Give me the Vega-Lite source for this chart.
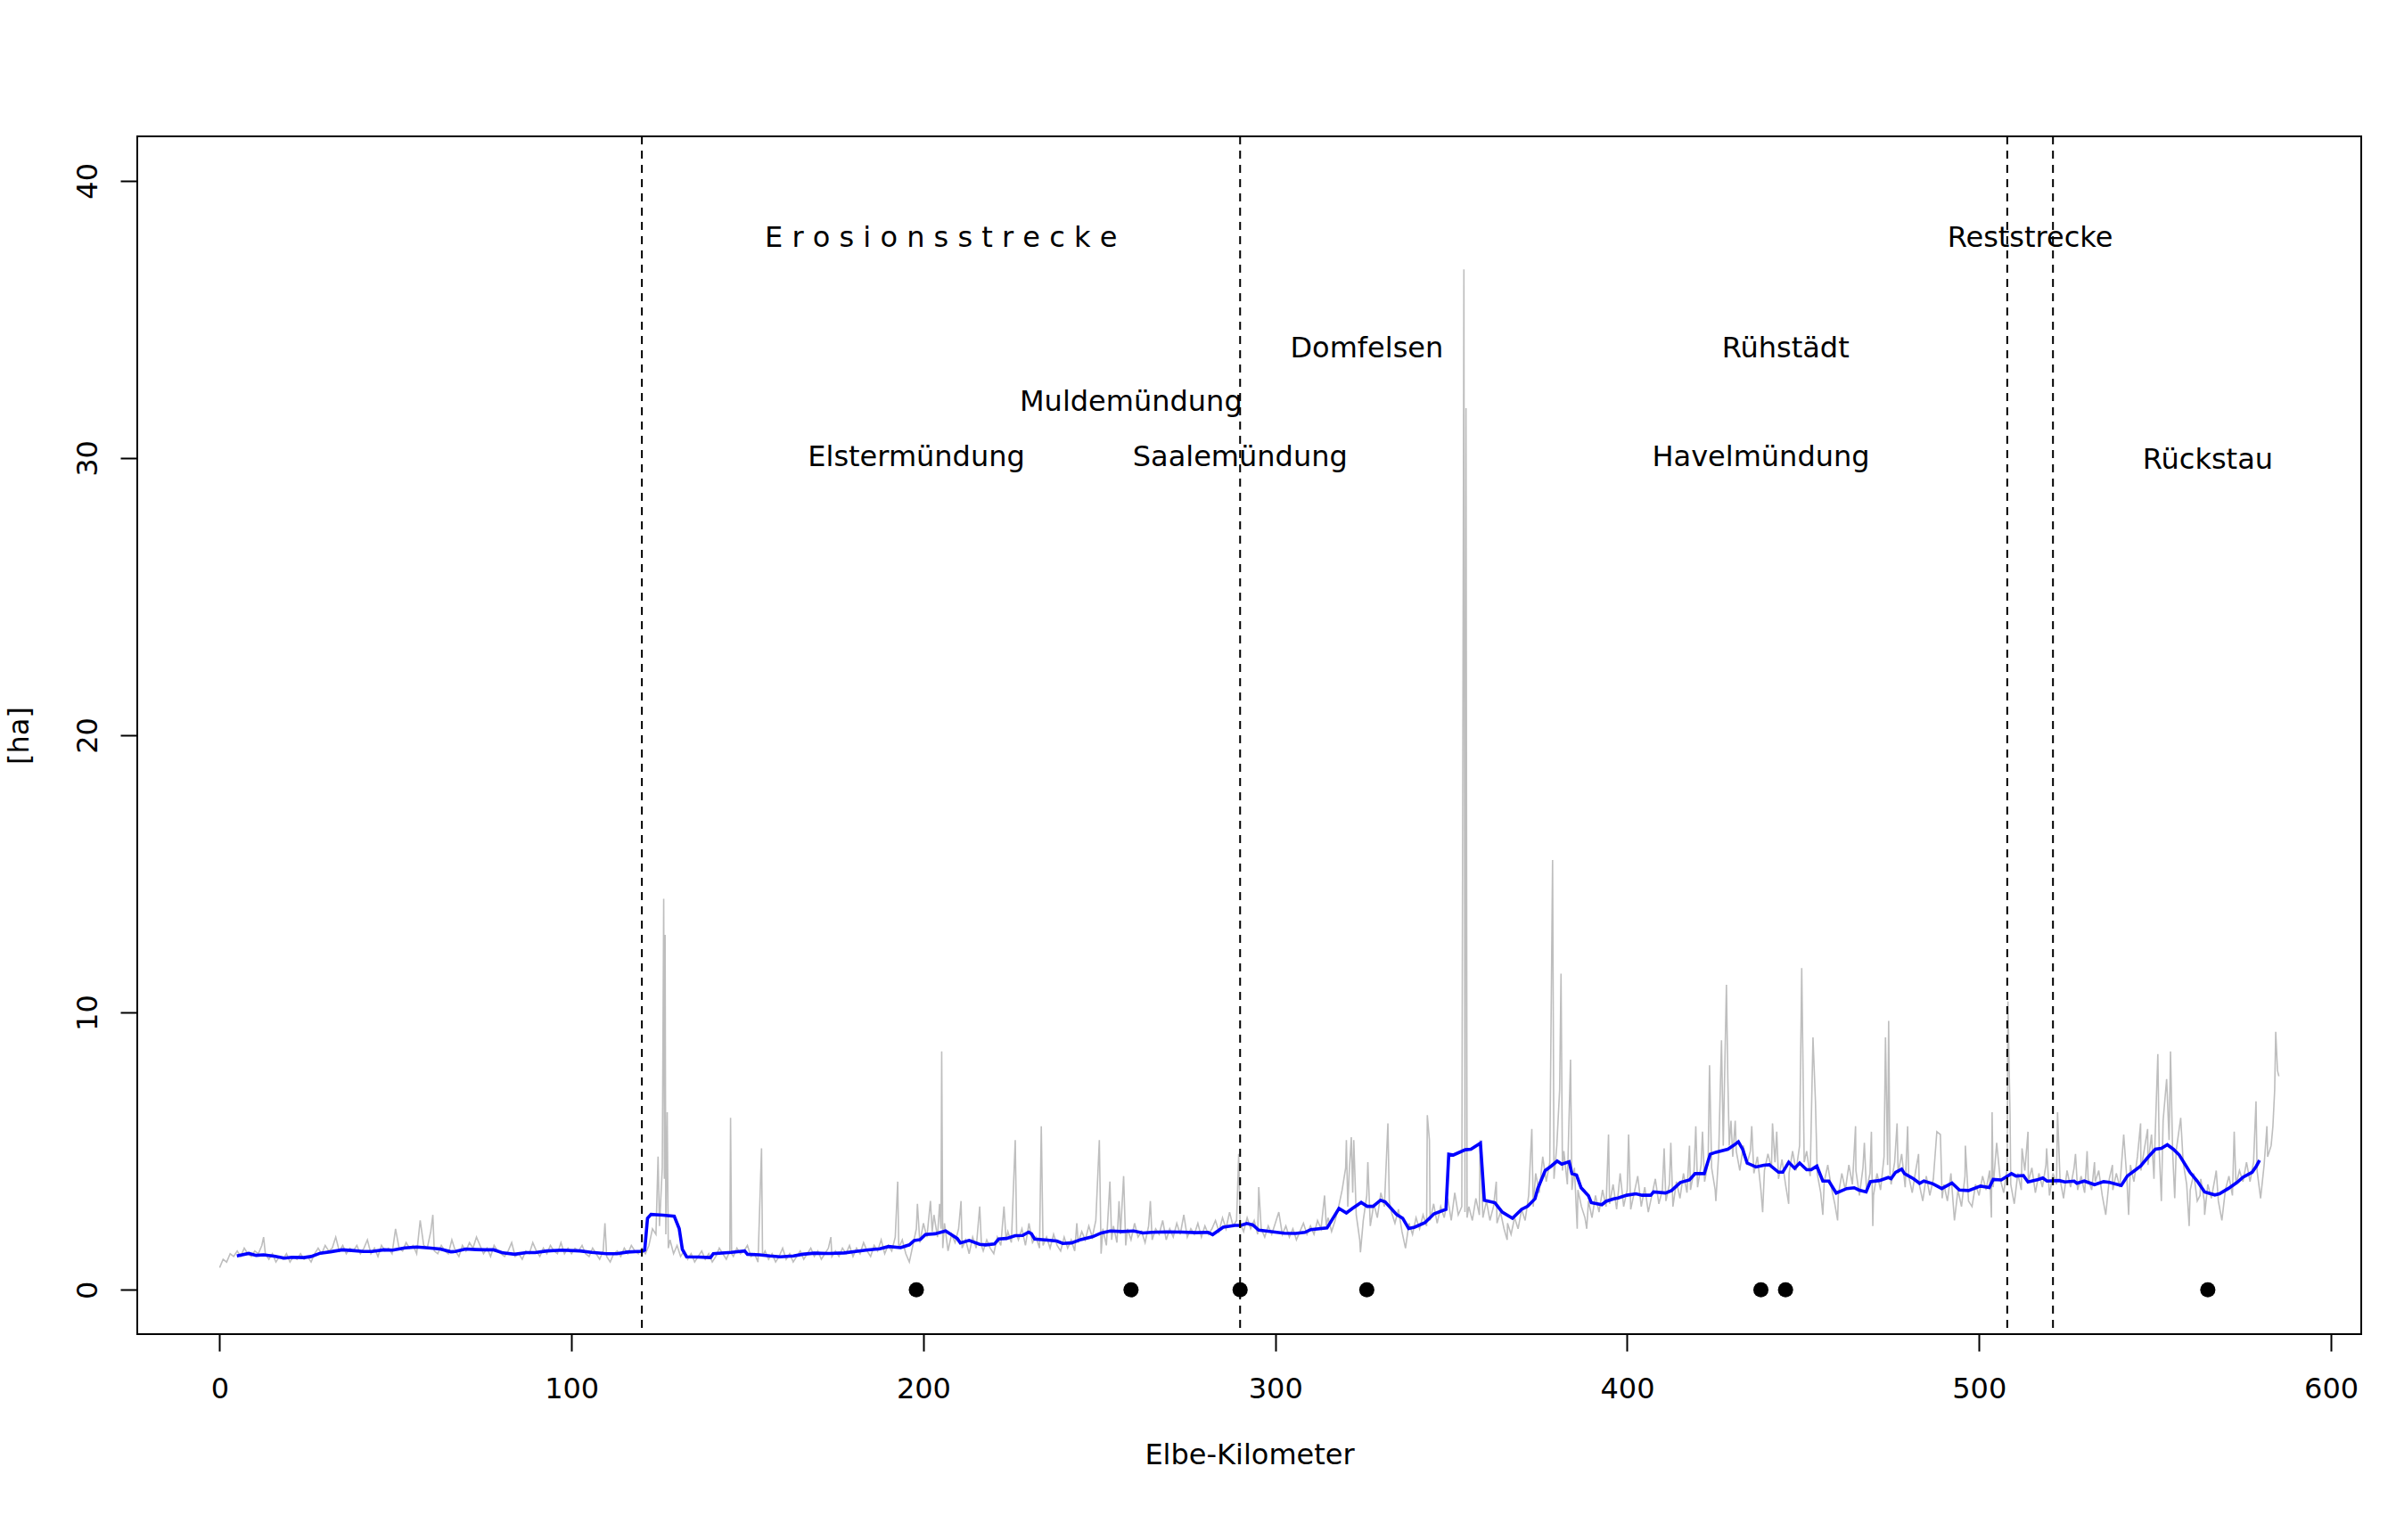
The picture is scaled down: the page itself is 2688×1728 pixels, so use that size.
{
"$schema": "https://vega.github.io/schema/vega-lite/v6.json",
"width": 2495, "height": 1344,
"autosize": "none",
"padding": {"left": 154, "top": 153, "right": 39, "bottom": 231},
"background": "white",
"config": {"view": {"stroke": "black", "strokeWidth": 2}, "font": "DejaVu Sans",
 "axis": {"grid": false, "domain": false, "tickColor": "black", "tickWidth": 2, "tickSize": 19, "labelFontSize": 32, "labelColor": "black", "labelFont": "DejaVu Sans", "titleFont": "DejaVu Sans", "titleFontSize": 32, "titleFontWeight": "normal", "titleColor": "black"}},
"datasets": {
"raw": [
{"k":0,"v":0.8},{"k":1,"v":1.1},{"k":2,"v":1.0},{"k":3,"v":1.3},{"k":4,"v":1.2},{"k":5,"v":1.4},{"k":6,"v":1.2},{"k":7,"v":1.5},{"k":8,"v":1.3},{"k":9,"v":1.2},
{"k":10,"v":1.4},{"k":11,"v":1.3},{"k":12,"v":1.6},{"k":12.5,"v":1.9},{"k":13,"v":1.3},{"k":14,"v":1.1},{"k":15,"v":1.3},{"k":16,"v":1.0},{"k":17,"v":1.2},{"k":18,"v":1.1},{"k":19,"v":1.3},
{"k":20,"v":1.0},{"k":21,"v":1.2},{"k":22,"v":1.1},{"k":23,"v":1.3},{"k":24,"v":1.1},{"k":25,"v":1.2},{"k":26,"v":1.0},{"k":27,"v":1.3},{"k":28,"v":1.5},{"k":29,"v":1.3},
{"k":30,"v":1.6},{"k":31,"v":1.4},{"k":32,"v":1.5},{"k":33,"v":1.9},{"k":34,"v":1.4},{"k":35,"v":1.6},{"k":36,"v":1.3},{"k":37,"v":1.5},{"k":38,"v":1.4},{"k":39,"v":1.6},
{"k":40,"v":1.3},{"k":41,"v":1.5},{"k":42,"v":1.8},{"k":43,"v":1.3},{"k":44,"v":1.5},{"k":45,"v":1.2},{"k":46,"v":1.6},{"k":47,"v":1.4},{"k":48,"v":1.5},{"k":49,"v":1.3},
{"k":50,"v":2.2},{"k":51,"v":1.5},{"k":52,"v":1.4},{"k":53,"v":1.7},{"k":54,"v":1.5},{"k":55,"v":1.6},{"k":56,"v":1.3},{"k":57,"v":2.5},{"k":58,"v":1.6},{"k":59,"v":1.5},
{"k":60,"v":2.1},{"k":60.6,"v":2.7},{"k":61,"v":1.4},{"k":62,"v":1.3},{"k":63,"v":1.6},{"k":64,"v":1.4},{"k":65,"v":1.3},{"k":66,"v":1.8},{"k":67,"v":1.4},{"k":68,"v":1.2},{"k":69,"v":1.6},
{"k":70,"v":1.4},{"k":71,"v":1.7},{"k":72,"v":1.5},{"k":73,"v":1.9},{"k":74,"v":1.6},{"k":75,"v":1.3},{"k":76,"v":1.5},{"k":77,"v":1.2},{"k":78,"v":1.6},{"k":79,"v":1.4},
{"k":80,"v":1.3},{"k":81,"v":1.2},{"k":82,"v":1.4},{"k":83,"v":1.7},{"k":84,"v":1.2},{"k":85,"v":1.3},{"k":86,"v":1.1},{"k":87,"v":1.4},{"k":88,"v":1.3},{"k":89,"v":1.7},
{"k":90,"v":1.4},{"k":91,"v":1.2},{"k":92,"v":1.5},{"k":93,"v":1.3},{"k":94,"v":1.6},{"k":95,"v":1.4},{"k":96,"v":1.3},{"k":97,"v":1.7},{"k":98,"v":1.3},{"k":99,"v":1.5},
{"k":100,"v":1.3},{"k":101,"v":1.5},{"k":102,"v":1.4},{"k":103,"v":1.6},{"k":104,"v":1.3},{"k":105,"v":1.2},{"k":106,"v":1.5},{"k":107,"v":1.3},{"k":108,"v":1.1},{"k":109,"v":1.4},{"k":109.5,"v":2.4},
{"k":110,"v":1.2},{"k":111,"v":1.0},{"k":112,"v":1.3},{"k":113,"v":1.4},{"k":114,"v":1.2},{"k":115,"v":1.5},{"k":116,"v":1.3},{"k":117,"v":1.6},{"k":118,"v":1.4},{"k":119,"v":1.3},
{"k":120,"v":1.5},{"k":121,"v":1.3},{"k":122,"v":1.6},{"k":123,"v":2.2},{"k":124,"v":2.0},{"k":124.6,"v":4.8},{"k":125,"v":2.3},{"k":125.8,"v":4.4},{"k":126.2,"v":14.1},{"k":126.4,"v":4.0},{"k":126.6,"v":12.8},{"k":126.8,"v":2.0},{"k":127.2,"v":6.4},{"k":127.5,"v":1.5},
{"k":128,"v":1.8},{"k":129,"v":1.3},{"k":130,"v":1.6},{"k":131,"v":1.2},{"k":132,"v":1.4},{"k":133,"v":1.1},{"k":134,"v":1.3},{"k":135,"v":1.0},{"k":136,"v":1.2},{"k":137,"v":1.4},{"k":138,"v":1.1},{"k":139,"v":1.3},
{"k":140,"v":1.0},{"k":141,"v":1.2},{"k":142,"v":1.5},{"k":143,"v":1.3},{"k":144,"v":1.1},{"k":145,"v":1.4},{"k":145.2,"v":6.2},{"k":145.5,"v":1.3},{"k":146,"v":1.2},{"k":147,"v":1.5},{"k":148,"v":1.3},{"k":149,"v":1.4},
{"k":150,"v":1.6},{"k":151,"v":1.2},{"k":152,"v":1.3},{"k":153,"v":1.0},{"k":154,"v":5.1},{"k":154.3,"v":1.2},{"k":155,"v":1.4},{"k":156,"v":1.1},{"k":157,"v":1.3},{"k":158,"v":1.0},{"k":159,"v":1.2},
{"k":160,"v":1.5},{"k":161,"v":1.1},{"k":162,"v":1.3},{"k":163,"v":1.0},{"k":164,"v":1.2},{"k":165,"v":1.4},{"k":166,"v":1.1},{"k":167,"v":1.3},{"k":168,"v":1.5},{"k":169,"v":1.2},
{"k":170,"v":1.4},{"k":171,"v":1.1},{"k":172,"v":1.3},{"k":173,"v":1.5},{"k":173.7,"v":1.9},{"k":174,"v":1.2},{"k":175,"v":1.4},{"k":176,"v":1.2},{"k":177,"v":1.5},{"k":178,"v":1.3},{"k":179,"v":1.6},
{"k":180,"v":1.2},{"k":181,"v":1.5},{"k":182,"v":1.3},{"k":183,"v":1.7},{"k":184,"v":1.4},{"k":185,"v":1.2},{"k":186,"v":1.6},{"k":187,"v":1.4},{"k":188,"v":1.8},{"k":189,"v":1.3},
{"k":190,"v":1.6},{"k":191,"v":1.4},{"k":192,"v":1.9},{"k":192.7,"v":3.9},{"k":193,"v":1.5},{"k":194,"v":1.8},{"k":195,"v":1.3},{"k":196,"v":1.0},{"k":197,"v":1.6},{"k":198,"v":2.2},{"k":198.3,"v":3.1},{"k":199,"v":1.7},
{"k":200,"v":2.4},{"k":201,"v":1.9},{"k":202,"v":3.2},{"k":202.5,"v":2.1},{"k":203,"v":2.7},{"k":204,"v":1.9},{"k":204.6,"v":3.1},{"k":205,"v":2.2},{"k":205.2,"v":8.6},{"k":205.5,"v":1.5},{"k":206,"v":2.4},{"k":207,"v":1.4},{"k":208,"v":2.0},{"k":209,"v":1.7},
{"k":210,"v":2.2},{"k":210.7,"v":3.2},{"k":211,"v":1.5},{"k":212,"v":1.8},{"k":213,"v":1.3},{"k":214,"v":1.9},{"k":215,"v":1.5},{"k":216,"v":3.0},{"k":216.5,"v":1.6},{"k":217,"v":1.4},{"k":218,"v":1.8},{"k":219,"v":1.5},
{"k":220,"v":1.3},{"k":221,"v":1.9},{"k":222,"v":1.6},{"k":222.9,"v":3.0},{"k":223.5,"v":1.8},{"k":224,"v":2.1},{"k":225,"v":1.7},{"k":226.1,"v":5.4},{"k":226.5,"v":2.0},{"k":227,"v":1.8},{"k":228,"v":2.2},{"k":229,"v":1.6},
{"k":230,"v":2.4},{"k":231,"v":1.7},{"k":232,"v":1.9},{"k":233,"v":1.5},{"k":233.5,"v":5.9},{"k":234,"v":1.6},{"k":235,"v":1.9},{"k":236,"v":1.5},{"k":237,"v":2.0},{"k":238,"v":1.6},{"k":239,"v":1.4},
{"k":240,"v":1.9},{"k":241,"v":1.5},{"k":242,"v":1.8},{"k":243,"v":1.4},{"k":243.6,"v":2.4},{"k":244,"v":1.7},{"k":245,"v":2.1},{"k":246,"v":1.8},{"k":247,"v":2.3},{"k":248,"v":1.9},{"k":249,"v":2.5},
{"k":250,"v":5.4},{"k":250.5,"v":1.3},{"k":251,"v":2.2},{"k":252,"v":1.6},{"k":253,"v":3.9},{"k":253.5,"v":1.8},{"k":254,"v":2.3},{"k":255,"v":1.7},{"k":255.6,"v":3.2},{"k":256,"v":2.0},{"k":256.9,"v":4.1},{"k":257.5,"v":1.6},{"k":258,"v":2.2},{"k":259,"v":1.8},
{"k":260,"v":2.4},{"k":261,"v":1.9},{"k":262,"v":2.1},{"k":263,"v":1.7},{"k":264,"v":2.3},{"k":264.5,"v":3.2},{"k":265,"v":1.8},{"k":266,"v":2.2},{"k":267,"v":2.0},{"k":268,"v":2.5},{"k":269,"v":1.8},
{"k":270,"v":2.2},{"k":271,"v":1.9},{"k":272,"v":2.4},{"k":273,"v":2.0},{"k":274,"v":2.7},{"k":275,"v":1.9},{"k":276,"v":2.2},{"k":277,"v":2.0},{"k":278,"v":2.4},{"k":279,"v":1.9},
{"k":280,"v":2.3},{"k":281,"v":2.0},{"k":282,"v":2.2},{"k":283,"v":2.5},{"k":284,"v":2.1},{"k":285,"v":2.6},{"k":286,"v":2.2},{"k":287,"v":2.8},{"k":288,"v":2.3},{"k":289,"v":2.5},{"k":289.6,"v":4.9},
{"k":290,"v":2.4},{"k":291,"v":2.1},{"k":292,"v":2.6},{"k":293,"v":2.2},{"k":294,"v":2.5},{"k":295,"v":2.0},{"k":295.3,"v":3.7},{"k":296,"v":2.2},{"k":297,"v":1.9},{"k":298,"v":2.3},{"k":299,"v":2.0},
{"k":300,"v":2.4},{"k":301,"v":2.8},{"k":302,"v":2.0},{"k":303,"v":2.3},{"k":304,"v":1.9},{"k":305,"v":2.2},{"k":306,"v":1.8},{"k":307,"v":2.1},{"k":308,"v":2.4},{"k":309,"v":2.0},
{"k":310,"v":2.3},{"k":311,"v":2.0},{"k":312,"v":2.5},{"k":313,"v":2.2},{"k":314,"v":3.4},{"k":314.5,"v":2.3},{"k":315,"v":2.6},{"k":316,"v":2.1},{"k":317,"v":2.5},{"k":318,"v":3.0},{"k":319,"v":3.6},
{"k":320,"v":4.4},{"k":320.2,"v":5.4},{"k":320.6,"v":3.0},{"k":321,"v":4.2},{"k":321.6,"v":5.5},{"k":322,"v":3.5},{"k":322.3,"v":5.4},{"k":323,"v":2.7},{"k":324,"v":1.8},{"k":324.2,"v":1.35},{"k":325,"v":2.5},{"k":326,"v":3.4},{"k":326.3,"v":4.6},{"k":327,"v":2.3},{"k":328,"v":3.1},{"k":329,"v":2.6},
{"k":330,"v":3.5},{"k":331,"v":3.0},{"k":332,"v":6.0},{"k":332.4,"v":3.2},{"k":333,"v":2.8},{"k":334,"v":2.4},{"k":335,"v":2.9},{"k":336,"v":2.1},{"k":337,"v":1.5},{"k":338,"v":2.4},{"k":339,"v":2.0},
{"k":340,"v":2.6},{"k":341,"v":2.2},{"k":342,"v":2.7},{"k":343,"v":2.3},{"k":343.2,"v":6.3},{"k":343.8,"v":5.4},{"k":344,"v":2.5},{"k":345,"v":3.1},{"k":346,"v":2.4},{"k":347,"v":3.0},{"k":348,"v":2.6},{"k":349,"v":3.3},
{"k":350,"v":2.5},{"k":351,"v":3.5},{"k":352,"v":2.7},{"k":353,"v":3.0},{"k":353.6,"v":36.8},{"k":353.9,"v":2.8},{"k":354.2,"v":31.8},{"k":354.5,"v":2.6},{"k":355,"v":3.0},{"k":356,"v":2.5},{"k":357,"v":3.3},{"k":358,"v":2.7},{"k":358.2,"v":5.4},{"k":359,"v":2.6},
{"k":360,"v":3.2},{"k":361,"v":2.5},{"k":362,"v":3.0},{"k":362.8,"v":3.9},{"k":363,"v":2.4},{"k":364,"v":2.8},{"k":365,"v":2.2},{"k":365.9,"v":1.8},{"k":366,"v":2.4},{"k":367,"v":2.0},{"k":368,"v":2.6},{"k":369,"v":2.2},
{"k":370,"v":2.9},{"k":371,"v":2.5},{"k":372,"v":3.4},{"k":372.9,"v":5.8},{"k":373.3,"v":3.0},{"k":374,"v":4.2},{"k":375,"v":3.5},{"k":376,"v":4.8},{"k":377,"v":3.9},{"k":378,"v":4.6},{"k":378.8,"v":15.5},{"k":379.2,"v":4.0},
{"k":380,"v":5.2},{"k":380.8,"v":7.2},{"k":381.2,"v":11.4},{"k":381.6,"v":4.3},{"k":382,"v":5.0},{"k":383,"v":3.8},{"k":383.9,"v":8.3},{"k":384.3,"v":3.6},{"k":385,"v":4.4},{"k":385.8,"v":2.2},{"k":386,"v":3.6},{"k":387,"v":3.0},{"k":388,"v":2.6},{"k":388.5,"v":2.2},{"k":389,"v":3.2},
{"k":390,"v":2.6},{"k":391,"v":3.4},{"k":392,"v":2.8},{"k":393,"v":3.6},{"k":394,"v":3.0},{"k":394.7,"v":5.6},{"k":395,"v":3.1},{"k":396,"v":3.8},{"k":397,"v":2.9},{"k":398,"v":4.2},{"k":399,"v":3.0},
{"k":400,"v":3.6},{"k":400.4,"v":5.6},{"k":401,"v":2.9},{"k":402,"v":3.5},{"k":403,"v":4.1},{"k":404,"v":3.0},{"k":405,"v":3.7},{"k":406,"v":2.8},{"k":407,"v":3.4},{"k":408,"v":4.0},{"k":409,"v":3.1},
{"k":410,"v":3.6},{"k":410.5,"v":5.1},{"k":411,"v":3.2},{"k":412,"v":3.8},{"k":412.4,"v":5.3},{"k":413,"v":3.0},{"k":414,"v":3.9},{"k":415,"v":3.3},{"k":416,"v":4.2},{"k":417,"v":3.5},{"k":417.7,"v":5.2},{"k":418,"v":3.6},{"k":419,"v":4.3},{"k":419.5,"v":5.9},
{"k":420,"v":3.7},{"k":421,"v":4.5},{"k":421.4,"v":5.7},{"k":422,"v":3.9},{"k":423,"v":4.6},{"k":423.4,"v":8.1},{"k":424,"v":4.4},{"k":425,"v":3.6},{"k":425.2,"v":3.2},{"k":426,"v":4.9},{"k":426.8,"v":9.0},{"k":427.3,"v":5.2},{"k":428.2,"v":11.0},{"k":428.6,"v":7.6},{"k":429,"v":5.2},{"k":429.5,"v":6.1},
{"k":430,"v":4.8},{"k":430.7,"v":6.1},{"k":431,"v":5.0},{"k":432,"v":4.3},{"k":433,"v":5.2},{"k":434,"v":4.5},{"k":435,"v":5.0},{"k":435.4,"v":5.9},{"k":436,"v":4.2},{"k":437,"v":4.8},{"k":438,"v":3.6},{"k":438.5,"v":2.8},{"k":439,"v":4.3},
{"k":440,"v":4.9},{"k":441,"v":4.4},{"k":441.3,"v":6.0},{"k":442,"v":4.6},{"k":442.5,"v":5.7},{"k":443,"v":4.0},{"k":444,"v":4.7},{"k":445,"v":3.8},{"k":445.9,"v":3.1},{"k":446,"v":4.2},{"k":447,"v":5.0},{"k":448,"v":4.3},{"k":449,"v":5.2},{"k":449.6,"v":11.6},{"k":449.9,"v":8.7},
{"k":450.3,"v":4.6},{"k":451,"v":5.0},{"k":452,"v":4.1},{"k":452.8,"v":9.1},{"k":453.5,"v":6.8},{"k":454,"v":4.2},{"k":455,"v":3.5},{"k":455.6,"v":2.7},{"k":456,"v":3.9},{"k":457,"v":4.5},{"k":458,"v":3.7},{"k":459,"v":3.1},{"k":459.8,"v":2.5},
{"k":460,"v":3.4},{"k":461,"v":4.2},{"k":462,"v":3.6},{"k":463,"v":4.5},{"k":464,"v":3.8},{"k":464.9,"v":5.9},{"k":465,"v":4.3},{"k":466,"v":3.4},{"k":467,"v":4.4},{"k":467.4,"v":5.3},{"k":468,"v":3.6},{"k":469,"v":4.2},{"k":469.4,"v":5.7},{"k":469.8,"v":2.3},
{"k":470,"v":3.4},{"k":471,"v":4.2},{"k":472,"v":3.6},{"k":473,"v":4.8},{"k":473.4,"v":9.1},{"k":474,"v":4.5},{"k":474.3,"v":9.7},{"k":474.7,"v":4.2},{"k":475,"v":3.8},{"k":476,"v":4.6},{"k":476.7,"v":6.0},{"k":477,"v":4.2},{"k":478,"v":4.9},{"k":479,"v":3.7},{"k":479.7,"v":5.9},
{"k":480,"v":4.1},{"k":481,"v":3.5},{"k":482,"v":4.3},{"k":482.8,"v":4.9},{"k":483,"v":3.8},{"k":484,"v":3.2},{"k":485,"v":4.1},{"k":486,"v":3.4},{"k":487,"v":4.0},{"k":488,"v":5.7},{"k":489,"v":5.6},{"k":489.5,"v":3.3},
{"k":490,"v":3.8},{"k":491,"v":3.2},{"k":492,"v":4.2},{"k":493,"v":2.5},{"k":494,"v":3.6},{"k":495,"v":3.0},{"k":496,"v":4.1},{"k":496.1,"v":5.2},{"k":497,"v":3.2},{"k":498,"v":3.0},{"k":499,"v":3.8},
{"k":500,"v":3.4},{"k":501,"v":4.1},{"k":502,"v":3.6},{"k":503,"v":4.3},{"k":503.5,"v":2.6},{"k":503.7,"v":6.4},{"k":504,"v":3.7},{"k":505,"v":5.3},{"k":506,"v":4.0},{"k":507,"v":3.5},{"k":508,"v":4.4},{"k":508.2,"v":10.4},{"k":508.8,"v":6.3},{"k":509,"v":3.8},
{"k":510,"v":3.1},{"k":511,"v":4.2},{"k":512,"v":3.6},{"k":512.2,"v":5.1},{"k":513,"v":4.3},{"k":513.9,"v":5.7},{"k":514,"v":3.9},{"k":515,"v":4.4},{"k":516,"v":3.5},{"k":517,"v":4.2},{"k":518,"v":3.7},{"k":519,"v":4.5},{"k":519.2,"v":5.1},
{"k":520,"v":3.4},{"k":521,"v":4.2},{"k":522,"v":3.8},{"k":522.3,"v":6.4},{"k":523,"v":4.0},{"k":524,"v":3.3},{"k":525,"v":4.3},{"k":526,"v":3.7},{"k":527,"v":4.4},{"k":527.4,"v":4.9},{"k":528,"v":3.6},{"k":529,"v":4.1},
{"k":530,"v":3.5},{"k":530.7,"v":5.0},{"k":531,"v":4.0},{"k":532,"v":3.6},{"k":532.8,"v":4.6},{"k":533,"v":3.9},{"k":534,"v":4.3},{"k":535,"v":3.4},{"k":536,"v":2.7},{"k":537,"v":4.0},{"k":537.9,"v":4.5},{"k":538,"v":3.6},{"k":539,"v":4.2},
{"k":540,"v":3.7},{"k":541.1,"v":5.6},{"k":542,"v":4.0},{"k":542.5,"v":2.7},{"k":543,"v":4.5},{"k":544,"v":3.9},{"k":545,"v":4.8},{"k":545.9,"v":6.0},{"k":546,"v":4.3},{"k":547,"v":5.1},{"k":547.9,"v":5.8},{"k":548,"v":4.5},{"k":549,"v":5.6},{"k":549.7,"v":4.0},
{"k":550,"v":5.4},{"k":550.8,"v":8.5},{"k":551.2,"v":5.0},{"k":551.8,"v":3.2},{"k":552.3,"v":6.1},{"k":553.3,"v":7.6},{"k":554,"v":5.4},{"k":554.4,"v":8.6},{"k":555,"v":5.0},{"k":555.6,"v":3.3},{"k":556,"v":5.0},{"k":557.3,"v":6.2},{"k":558,"v":4.6},{"k":559,"v":3.8},{"k":559.7,"v":2.3},
{"k":560,"v":3.6},{"k":561,"v":4.2},{"k":562,"v":3.2},{"k":562.8,"v":3.4},{"k":563,"v":4.0},{"k":564,"v":3.2},{"k":564.1,"v":2.7},{"k":565,"v":3.8},{"k":566,"v":3.3},{"k":567,"v":4.0},{"k":567.4,"v":4.3},{"k":568,"v":3.2},{"k":569,"v":2.5},
{"k":570,"v":3.6},{"k":571,"v":4.1},{"k":572,"v":3.4},{"k":572.5,"v":5.7},{"k":573,"v":3.8},{"k":574,"v":4.3},{"k":575,"v":3.9},{"k":576,"v":4.6},{"k":577,"v":3.9},{"k":578,"v":4.6},{"k":578.7,"v":6.8},{"k":579,"v":4.3},
{"k":580,"v":3.3},{"k":581,"v":4.5},{"k":581.8,"v":5.9},{"k":582,"v":4.8},{"k":583,"v":5.2},{"k":583.5,"v":5.9},{"k":584,"v":7.2},{"k":584.3,"v":9.3},{"k":584.8,"v":7.9},{"k":585.2,"v":7.7}
],
"ma": [
{"k":4.9,"v":1.22},{"k":8.3,"v":1.31},{"k":10.4,"v":1.24},{"k":12.5,"v":1.26},{"k":15.5,"v":1.21},{"k":18.4,"v":1.14},{"k":20.5,"v":1.17},{"k":23.9,"v":1.16},{"k":26.0,"v":1.2},{"k":28.6,"v":1.32},
{"k":31.5,"v":1.37},{"k":34.9,"v":1.44},{"k":38.3,"v":1.41},{"k":40.8,"v":1.38},{"k":43.3,"v":1.38},{"k":46.7,"v":1.44},{"k":49.2,"v":1.43},{"k":52.6,"v":1.51},{"k":56.0,"v":1.54},{"k":59.4,"v":1.51},
{"k":62.7,"v":1.47},{"k":65.7,"v":1.37},{"k":67.0,"v":1.38},{"k":69.9,"v":1.47},{"k":72.9,"v":1.45},{"k":75.4,"v":1.44},{"k":77.9,"v":1.44},{"k":80.5,"v":1.33},{"k":83.8,"v":1.28},{"k":87.2,"v":1.34},
{"k":89.7,"v":1.34},{"k":93.1,"v":1.40},{"k":97.3,"v":1.43},{"k":102.4,"v":1.40},{"k":105.7,"v":1.35},{"k":110.0,"v":1.30},{"k":112.9,"v":1.30},{"k":115.9,"v":1.36},{"k":120.1,"v":1.39},{"k":120.8,"v":1.43},
{"k":121.6,"v":2.58},{"k":122.6,"v":2.72},{"k":126.0,"v":2.69},{"k":129.2,"v":2.65},{"k":130.6,"v":2.21},{"k":131.5,"v":1.46},{"k":132.7,"v":1.19},{"k":136.1,"v":1.18},{"k":139.5,"v":1.16},{"k":140.3,"v":1.30},
{"k":145.4,"v":1.35},{"k":149.2,"v":1.40},{"k":150.0,"v":1.28},{"k":153.4,"v":1.26},{"k":156.4,"v":1.22},{"k":159.3,"v":1.19},{"k":163.1,"v":1.22},{"k":165.7,"v":1.28},{"k":169.0,"v":1.32},{"k":173.2,"v":1.31},
{"k":177.5,"v":1.33},{"k":181.7,"v":1.40},{"k":184.2,"v":1.44},{"k":187.6,"v":1.48},{"k":190.1,"v":1.56},{"k":193.5,"v":1.52},{"k":196.0,"v":1.62},{"k":197.4,"v":1.78},{"k":199.1,"v":1.81},{"k":200.6,"v":1.99},
{"k":203.3,"v":2.02},{"k":206.3,"v":2.12},{"k":207.9,"v":1.99},{"k":209.6,"v":1.85},{"k":210.5,"v":1.69},{"k":213.0,"v":1.78},{"k":216.0,"v":1.64},{"k":217.7,"v":1.62},{"k":220.2,"v":1.65},{"k":221.4,"v":1.83},
{"k":223.6,"v":1.85},{"k":226.1,"v":1.95},{"k":228.2,"v":1.96},{"k":229.9,"v":2.08},{"k":230.7,"v":2.02},{"k":231.6,"v":1.83},{"k":234.5,"v":1.80},{"k":237.9,"v":1.76},{"k":239.6,"v":1.67},{"k":242.1,"v":1.69},
{"k":244.7,"v":1.81},{"k":248.0,"v":1.91},{"k":250.6,"v":2.05},{"k":253.1,"v":2.12},{"k":256.5,"v":2.10},{"k":259.8,"v":2.12},{"k":262.4,"v":2.05},{"k":264.9,"v":2.07},{"k":269.1,"v":2.09},{"k":273.4,"v":2.08},
{"k":277.6,"v":2.06},{"k":280.9,"v":2.07},{"k":282.2,"v":1.99},{"k":285.2,"v":2.26},{"k":288.5,"v":2.32},{"k":290.2,"v":2.32},{"k":291.9,"v":2.39},{"k":293.6,"v":2.34},{"k":295.3,"v":2.15},{"k":297.4,"v":2.12},
{"k":299.9,"v":2.08},{"k":302.5,"v":2.04},{"k":305.8,"v":2.03},{"k":308.4,"v":2.07},{"k":310.1,"v":2.17},{"k":314.7,"v":2.23},{"k":318.1,"v":2.93},{"k":320.2,"v":2.77},{"k":321.9,"v":2.93},{"k":324.4,"v":3.15},
{"k":326.1,"v":3.01},{"k":327.8,"v":3.01},{"k":329.9,"v":3.23},{"k":331.2,"v":3.17},{"k":334.5,"v":2.71},{"k":336.2,"v":2.58},{"k":337.9,"v":2.21},{"k":339.6,"v":2.26},{"k":342.5,"v":2.42},{"k":345.1,"v":2.74},
{"k":348.5,"v":2.90},{"k":349.3,"v":4.89},{"k":350.6,"v":4.86},{"k":354.0,"v":5.05},{"k":355.6,"v":5.07},{"k":358.3,"v":5.29},{"k":359.4,"v":3.23},{"k":362.4,"v":3.14},{"k":364.5,"v":2.80},{"k":367.4,"v":2.58},
{"k":370.0,"v":2.90},{"k":371.7,"v":3.01},{"k":373.8,"v":3.28},{"k":374.6,"v":3.65},{"k":376.7,"v":4.30},{"k":378.4,"v":4.46},{"k":380.1,"v":4.64},{"k":381.4,"v":4.53},{"k":383.5,"v":4.62},{"k":384.3,"v":4.19},
{"k":385.6,"v":4.14},{"k":386.9,"v":3.68},{"k":389.0,"v":3.39},{"k":389.8,"v":3.14},{"k":392.8,"v":3.07},{"k":394.0,"v":3.19},{"k":396.1,"v":3.28},{"k":397.4,"v":3.31},{"k":399.9,"v":3.41},{"k":402.5,"v":3.46},
{"k":404.2,"v":3.41},{"k":406.7,"v":3.41},{"k":407.5,"v":3.53},{"k":410.9,"v":3.49},{"k":412.6,"v":3.58},{"k":415.1,"v":3.87},{"k":417.7,"v":3.96},{"k":419.3,"v":4.19},{"k":421.9,"v":4.19},{"k":423.6,"v":4.89},
{"k":425.2,"v":4.96},{"k":428.6,"v":5.07},{"k":430.3,"v":5.21},{"k":431.6,"v":5.34},{"k":432.8,"v":5.07},{"k":434.1,"v":4.57},{"k":436.6,"v":4.43},{"k":438.8,"v":4.49},{"k":440.4,"v":4.51},{"k":443.0,"v":4.24},
{"k":444.2,"v":4.24},{"k":445.9,"v":4.60},{"k":447.6,"v":4.38},{"k":449.0,"v":4.57},{"k":451.0,"v":4.33},{"k":452.3,"v":4.33},{"k":453.9,"v":4.46},{"k":455.6,"v":3.92},{"k":457.3,"v":3.92},{"k":459.4,"v":3.49},
{"k":462.4,"v":3.65},{"k":464.5,"v":3.68},{"k":465.8,"v":3.60},{"k":467.9,"v":3.53},{"k":469.1,"v":3.90},{"k":471.7,"v":3.94},{"k":474.2,"v":4.05},{"k":475.0,"v":4.01},{"k":476.3,"v":4.24},{"k":478.0,"v":4.35},
{"k":478.8,"v":4.19},{"k":481.4,"v":4.00},{"k":483.1,"v":3.84},{"k":484.3,"v":3.92},{"k":486.9,"v":3.82},{"k":489.4,"v":3.65},{"k":492.3,"v":3.85},{"k":494.4,"v":3.60},{"k":497.0,"v":3.58},{"k":500.4,"v":3.74},
{"k":502.9,"v":3.69},{"k":504.0,"v":3.98},{"k":506.3,"v":3.96},{"k":509.2,"v":4.19},{"k":510.5,"v":4.10},{"k":512.6,"v":4.12},{"k":513.9,"v":3.89},{"k":516.8,"v":3.98},{"k":518.1,"v":4.03},{"k":519.3,"v":3.92},
{"k":522.7,"v":3.94},{"k":524.4,"v":3.89},{"k":527.0,"v":3.92},{"k":527.8,"v":3.84},{"k":529.9,"v":3.92},{"k":532.8,"v":3.79},{"k":535.4,"v":3.90},{"k":537.1,"v":3.87},{"k":540.4,"v":3.76},{"k":542.1,"v":4.10},
{"k":544.2,"v":4.30},{"k":545.9,"v":4.46},{"k":548.0,"v":4.78},{"k":550.1,"v":5.07},{"k":551.8,"v":5.10},{"k":553.5,"v":5.23},{"k":555.2,"v":5.07},{"k":556.9,"v":4.86},{"k":559.9,"v":4.24},{"k":562.0,"v":3.92},
{"k":564.1,"v":3.53},{"k":567.0,"v":3.42},{"k":568.3,"v":3.46},{"k":570.8,"v":3.65},{"k":573.3,"v":3.87},{"k":575.0,"v":4.06},{"k":577.6,"v":4.24},{"k":578.8,"v":4.46},{"k":579.7,"v":4.67}
],
"cuts": [{"k":120},{"k":290},{"k":508},{"k":521}],
"sites": [{"k":198,"v":0},{"k":259,"v":0},{"k":290,"v":0},{"k":326,"v":0},{"k":438,"v":0},{"k":445,"v":0},{"k":565,"v":0}],
"labels": [
{"k":198,"v":30,"t":"Elstermündung"},{"k":259,"v":32,"t":"Muldemündung"},{"k":290,"v":30,"t":"Saalemündung"},{"k":326,"v":34,"t":"Domfelsen"},
{"k":438,"v":30,"t":"Havelmündung"},{"k":445,"v":34,"t":"Rühstädt"},{"k":565,"v":30,"t":"Rückstau"},
{"k":205,"v":38,"t":"E r o s i o n s s t r e c k e"},{"k":514.5,"v":38,"t":"Reststrecke"}
]
},
"encoding": {
 "x": {"field": "k", "type": "quantitative", "scale": {"domain": [-23.4, 608.6], "nice": false, "zero": false},
   "axis": {"values": [0,100,200,300,400,500,600], "title": "Elbe-Kilometer", "labelAngle": 0, "labelAlign": "center", "labelBaseline": "middle", "labelPadding": 42, "titleY": 135, "titleX": 1247.5, "titleBaseline": "middle", "titleAlign": "center"}},
 "y": {"field": "v", "type": "quantitative", "scale": {"domain": [-1.6, 41.6], "nice": false, "zero": false},
   "axis": {"values": [0,10,20,30,40], "title": "[ha]", "labelAngle": -90, "labelAlign": "center", "labelBaseline": "middle", "labelPadding": 37, "titleX": -133, "titleY": 672, "titleAngle": -90, "titleBaseline": "middle", "titleAlign": "center"}}
},
"layer": [
 {"data": {"name": "raw"}, "mark": {"type": "line", "color": "#BEBEBE", "strokeWidth": 1.6, "clip": true}},
 {"data": {"name": "ma"}, "mark": {"type": "line", "color": "#0000FF", "strokeWidth": 3.6}},
 {"data": {"name": "cuts"}, "mark": {"type": "rule", "color": "black", "strokeWidth": 2, "strokeDash": [9, 7]}, "encoding": {"y": null}},
 {"data": {"name": "sites"}, "mark": {"type": "circle", "color": "black", "opacity": 1, "size": 290}},
 {"data": {"name": "labels"}, "transform": [{"filter": {"field": "t", "oneOf": ["Elstermündung", "Muldemündung", "Saalemündung", "Havelmündung"]}}],
  "mark": {"type": "text", "fontSize": 32, "font": "DejaVu Sans", "color": "black", "align": "center", "baseline": "middle", "dy": -1}, "encoding": {"text": {"field": "t"}}},
 {"data": {"name": "labels"}, "transform": [{"filter": {"not": {"field": "t", "oneOf": ["Elstermündung", "Muldemündung", "Saalemündung", "Havelmündung"]}}}],
  "mark": {"type": "text", "fontSize": 32, "font": "DejaVu Sans", "color": "black", "align": "center", "baseline": "middle", "dy": 2}, "encoding": {"text": {"field": "t"}}}
]
}
